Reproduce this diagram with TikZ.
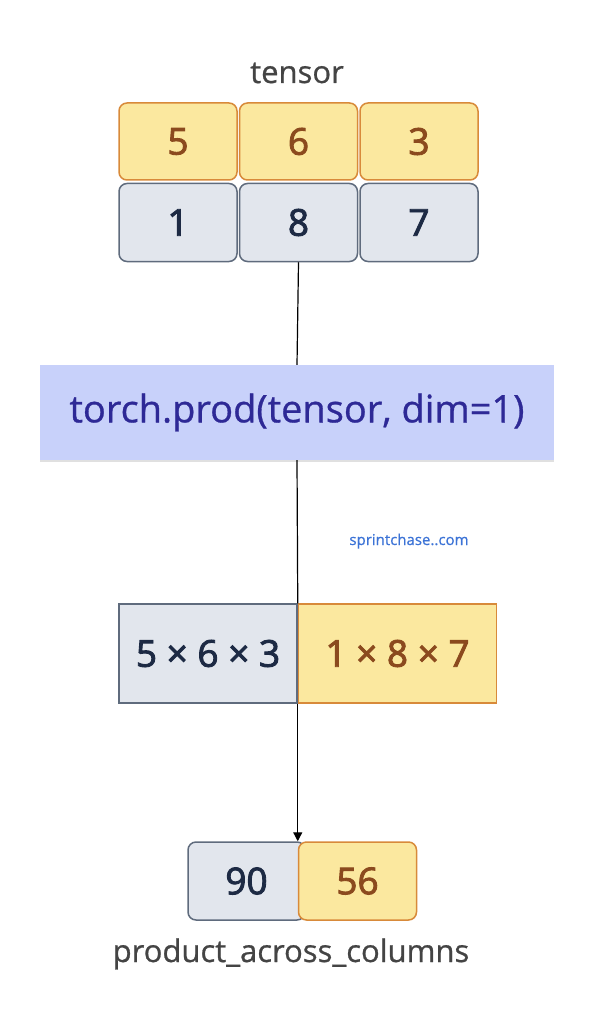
\documentclass[tikz,border=0pt]{standalone}
\usepackage{fontspec}
\setmainfont{Open Sans}[FakeBold=0.8]
\newfontfamily\cellfont{Open Sans}[FakeBold=2.4]
\usetikzlibrary{positioning, arrows.meta, shadows}

\definecolor{cellyellow}{HTML}{FBE89F}
\definecolor{cellorange}{HTML}{D88A3A}
\definecolor{cellbrown}{HTML}{8B4A1E}
\definecolor{cellgray}{HTML}{E2E6ED}
\definecolor{cellslate}{HTML}{5F6B7D}
\definecolor{cellnavy}{HTML}{1D2A44}
\definecolor{opblue}{HTML}{C8D1FA}
\definecolor{opindigo}{HTML}{2E2996}
\definecolor{labelgray}{HTML}{444444}
\definecolor{linkblue}{HTML}{3C73D6}

\begin{document}
\begin{tikzpicture}[
        x=1pt, y=-1pt,
        cell/.style={line width=1.5pt, rounded corners=8pt, inner sep=0pt,
            minimum width=118pt, minimum height=78pt,
            font=\cellfont\fontsize{37}{40}\selectfont},
        ycell/.style={cell, draw=cellorange, fill=cellyellow, text=cellbrown},
        gcell/.style={cell, draw=cellslate, fill=cellgray, text=cellnavy},
        label/.style={text=labelgray, font=\fontsize{31}{36}\selectfont},
        arrow/.style={-{Triangle[length=9pt, width=9pt]}, line width=1.2pt}
    ]
    \useasboundingbox (0,0) rectangle (595,1024);

    % Input tensor
    \node [label, anchor=base] (name) at (297,83) {tensor};
    \node [ycell, minimum height=77pt] (t5) at (178,141.5) {5};
    \node [ycell, minimum height=77pt, right=1pt of t5] (t6) {6};
    \node [ycell, minimum height=77pt, right=1pt of t6] (t3) {3};
    \node [gcell, below=2pt of t5] (t1) {1};
    \node [gcell, right=1pt of t1] (t8) {8};
    \node [gcell, right=1pt of t8] (t7) {7};

    % Operation
    \node [fill=opblue, text=opindigo, minimum width=514pt, minimum height=95pt,
        font=\fontsize{38}{42}\selectfont,
        drop shadow={shadow xshift=0pt, shadow yshift=-2pt, opacity=0.12, fill=black}]
        (op) at (297,412.5) {torch.prod(tensor, dim=1)};
    \node [text=linkblue, font=\fontsize{15}{18}\selectfont, anchor=base]
        (site) at (409,545) {sprintchase..com};

    % Products
    \node [gcell, rounded corners=0pt, minimum width=178pt, minimum height=99pt]
        (row1) at (208,653.5) {5 × 6 × 3};
    \node [ycell, rounded corners=0pt, minimum width=198pt, minimum height=99pt,
        right=0pt of row1] (row2) {1 × 8 × 7};

    % Result
    \node [gcell, minimum width=117pt] (r90) at (246.5,881) {90};
    \node [ycell, right=-8pt of r90] (r56) {56};
    \node [label, anchor=base] (result) at (291,962) {product\_across\_columns};

    % Arrows
    \draw [line width=1.2pt] (t8.south) -- (op.north);
    \draw [line width=1.2pt] (op.south) -- (row1.north east);
    \draw [arrow] (row1.south east) -- (r56.north west);
\end{tikzpicture}
\end{document}
